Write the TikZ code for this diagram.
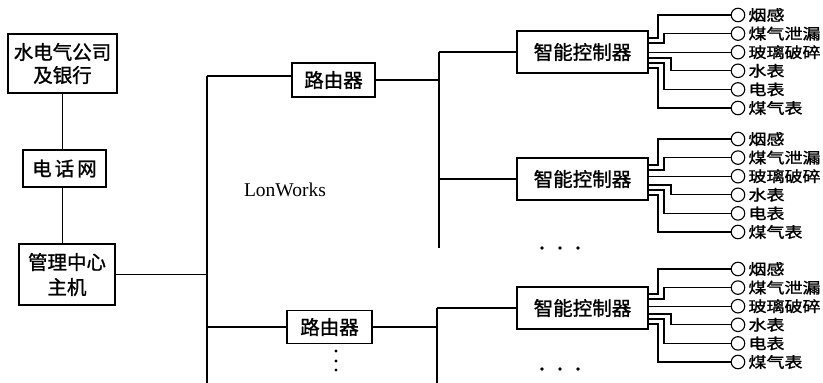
\documentclass[tikz,border=0pt]{standalone}
\usepackage{fontspec}
\setmainfont{Liberation Serif}
\newfontfamily\cjk{Noto Sans CJK SC}[FakeBold=1.2]
\begin{document}
\begin{tikzpicture}[x=1pt,y=-1pt,
  box/.style={draw,line width=1.8pt,inner sep=0pt,align=center,font=\cjk\fontsize{19.5}{23}\selectfont},
  wire/.style={line width=1.2pt},
  sensor/.style={circle,draw,line width=1.1pt,minimum size=13.5pt,inner sep=0pt},
  slabel/.style={anchor=west,inner sep=0pt,font=\cjk\fontsize{15}{15}\selectfont}]
\useasboundingbox[fill=white] (0,0) rectangle (823,383);

% left column
\node[box,minimum width=109pt,minimum height=59pt] (gs) at (62.5,63.5) {水电气公司\\及银行};
\node[box,minimum width=83pt,minimum height=37pt] (dh) at (64.5,168.5) {电\hspace{3pt}话\hspace{3pt}网};
\node[box,minimum width=96pt,minimum height=61pt,font=\cjk\fontsize{19.5}{25}\selectfont] (zx) at (67,274.5) {管理中心\\主机};
\draw[wire] (gs.south) -- (gs.south |- dh.north);
\draw[wire] (dh.south -| gs.south) -- (zx.north -| gs.south);

% bus
\coordinate (bt) at (207,76);
\coordinate (bb) at (207,383);
\draw[wire] (bt) -- (bb);
\draw[wire] (zx.east) -- (zx.east -| bt);

% routers
\node[box,minimum width=83pt,minimum height=34pt] (r1) at (333.5,80) {路由器};
\node[box,minimum width=85pt,minimum height=33pt] (r2) at (329.5,327) {路由器};
\draw[wire] (bt) -- (bt -| r1.west);
\draw[wire] (r2.west -| bt) -- (r2.west);

\node[inner sep=0pt,font=\fontsize{19.5}{20}\selectfont] (lw) at (285,190) {LonWorks};

% router dots
\foreach \yy in {351,361,370} \fill (336,\yy) circle (1.7pt);

% second level verticals
\coordinate (v1t) at (439,52);
\coordinate (v1b) at (439,248);
\coordinate (v2t) at (437,308);
\coordinate (v2b) at (437,383);
\draw[wire] (r1.east) -- (r1.east -| v1t);
\draw[wire] (v1t) -- (v1b);
\draw[wire] (r2.east) -- (r2.east -| v2t);
\draw[wire] (v2t) -- (v2b);

% controllers
\node[box,minimum width=131pt,minimum height=42pt] (c1) at (582.5,52) {智能控制器};
\node[box,minimum width=131pt,minimum height=42pt] (c2) at (582.5,179) {智能控制器};
\node[box,minimum width=131pt,minimum height=42pt] (c3) at (582.5,308) {智能控制器};
\draw[wire] (v1t) -- (c1.west);
\draw[wire] (c2.west -| v1t) -- (c2.west);
\draw[wire] (v2t) -- (c3.west);

% controller dots
\foreach \xx in {542,560,578} {
  \fill (\xx,248) circle (1.8pt);
  \fill (\xx,369) circle (1.8pt);
}

% sensors
\foreach \c/\y in {c1/15,c2/139,c3/269}{
  \foreach \t [count=\i from 0] in {烟感,煤气泄漏,玻璃破碎,水表,电表,煤气表}{
    \node[sensor] (\c-s\i) at (738,{\y+18.6*\i}) {};
    \node[slabel] (\c-l\i) at ([xshift=3pt]\c-s\i.east) {\scalebox{1.2}[1]{\t}};
  }
  \draw[wire] ([yshift=14pt]\c.east) -- ++(9,0) |- (\c-s0.west);
  \draw[wire] ([yshift=9pt]\c.east) -- ++(15,0) |- (\c-s1.west);
  \draw[wire] (\c-s2.west -| \c.east) -- (\c-s2.west);
  \draw[wire] ([yshift=-6pt]\c.east) -- ++(22,0) |- (\c-s3.west);
  \draw[wire] ([yshift=-11pt]\c.east) -- ++(15,0) |- (\c-s4.west);
  \draw[wire] ([yshift=-16pt]\c.east) -- ++(9,0) |- (\c-s5.west);
}
\end{tikzpicture}
\end{document}
